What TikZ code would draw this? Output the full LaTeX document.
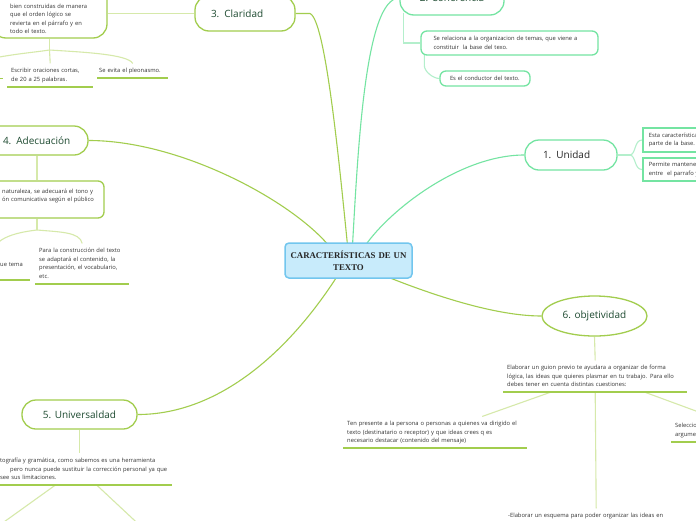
\documentclass[tikz,border=0pt]{standalone}
\usepackage{fontspec}
\setmainfont{Open Sans}
\newfontfamily\serifb{Liberation Serif}
\usetikzlibrary{shapes.geometric,calc,backgrounds}

\definecolor{yg}{HTML}{A2CD4E}
\definecolor{ygpale}{HTML}{D6E9AA}
\definecolor{mint}{HTML}{74E4A2}
\definecolor{mintpale}{HTML}{B4EFCC}
\definecolor{bluefill}{HTML}{C8EBFB}
\definecolor{blueline}{HTML}{72C6EE}
\definecolor{titlegreen}{HTML}{1D4A30}
\definecolor{txt}{HTML}{333333}

\tikzset{
  topicy/.style={draw=yg, line width=1.3pt, fill=white, rounded corners=14pt,
    font=\fontsize{10}{11}\selectfont, text=titlegreen, inner sep=0pt},
  topicm/.style={topicy, draw=mint},
  body/.style={font=\fontsize{5.8}{8.5}\selectfont, text=txt},
  txtnode/.style={body, align=left, inner sep=0pt, anchor=north west,
    execute at begin node=\strut, execute at end node=\strut},
  leaf/.style={body, align=left, inner xsep=4pt, inner ysep=3pt, anchor=north west,
    execute at begin node=\strut, execute at end node=\strut},
  boxy/.style={draw=yg, line width=1.3pt, fill=white, rounded corners=6pt, inner sep=0pt},
  boxm/.style={draw=mint, line width=1.3pt, fill=white, rounded corners=6pt, body, align=left, inner sep=0pt},
  sqm/.style={draw=mint, line width=1.6pt, fill=white, body, align=left, inner xsep=6pt, inner ysep=0pt, anchor=west},
  mainy/.style={draw=yg, line width=1.1pt},
  mainm/.style={draw=mint, line width=1.1pt},
  childy/.style={draw=ygpale, line width=1.1pt},
  childm/.style={draw=mintpale, line width=1.1pt},
  uline/.style={draw=yg, line width=1.8pt},
}

\begin{document}
\begin{tikzpicture}[x=1pt, y=-1pt]
\useasboundingbox (0,0) rectangle (696,520);

% central node
\node[draw=blueline, fill=bluefill, line width=1.5pt, rounded corners=4pt,
  minimum width=127pt, minimum height=35pt, inner sep=0pt, text width=125pt, align=center,
  font=\serifb\bfseries\fontsize{8.8}{11.7}\selectfont, text=black!85] (central) at (348.5,260.5)
  {CARACTERÍSTICAS DE UN\\TEXTO};

% topics
\node[topicy, minimum width=100pt, minimum height=35pt, text width=68pt, align=left] (clar) at (245,13.5) {3. Claridad};
\node[topicm, minimum width=104pt, minimum height=34pt] (coh) at (452,-2) {2. Coherencia};
\node[topicm, minimum width=92pt, minimum height=30pt, text width=56pt, align=left, text=black!85] (uni) at (571,155) {1. Unidad};
\node[topicy, minimum width=102pt, minimum height=29pt, text width=68pt, align=left] (adec) at (37,140.5) {4. Adecuación};
\node[topicy, minimum width=115pt, minimum height=29pt] (univ) at (79.5,414.5) {5. Universaldad};
\node[ellipse, draw=yg, line width=1.3pt, fill=white, minimum width=105pt, minimum height=40pt,
  inner sep=0pt, font=\fontsize{10}{11}\selectfont, text=titlegreen] (obj) at (594.5,316) {6. objetividad};

% Claridad children
\node[boxy, rounded corners=14pt, minimum width=115pt, minimum height=52pt] (clarbox) at (49.5,12) {};
\node[txtnode, text width=90pt] (clartext) at (10,2)
  {bien construidas de manera\\que el orden lógico se\\revierta en el párrafo y en\\todo el texto.};
\node[leaf, text width=78pt] (escribir) at (7,63.45) {Escribir oraciones cortas,\\de 20 a 25 palabras.};
\node[leaf, text width=67pt, inner xsep=2pt] (pleo) at (97,63.45) {Se evita el pleonasmo.};
\node[leaf, text width=55pt] (clarleft) at (-60,63.5) {};

% Coherencia children
\node[boxm, minimum width=177pt, minimum height=24pt, text width=152pt] (cohbox1) at (509.5,43)
  {Se relaciona a la organizacion de temas, que viene a\\constituir~ la base del texo.};
\node[boxm, minimum width=90pt, minimum height=15pt, text width=70pt] (cohbox2) at (485,78.5)
  {Es el conductor del texto.};

% Unidad children
\node[sqm, minimum height=24pt, text width=80pt] (unibox1) at (642,140)
  {Esta característica forma\\parte de la base.};
\node[sqm, minimum height=23pt, text width=80pt] (unibox2) at (642,169.5)
  {Permite mantener la\\entre~ el parrafo y el texto};

% Adecuacion children
\node[boxy, minimum width=134pt, minimum height=37pt] (adecbox) at (37,199.5) {};
\node[txtnode, text width=110pt] (adectext) at (2,187)
  {naturaleza, se adecuará el tono y\\ón comunicativa según el público};
\node[leaf, text width=86pt] (adecleaf1) at (35,243.45)
  {Para la construcción del texto\\se adaptará el contenido, la\\presentación, el vocabulario,\\etc.};
\node[leaf, text width=26pt] (adecleaf2) at (-4,248.45) {\\ue tema\\};

% Universalidad children
\node[leaf, text width=168pt] (univtext) at (-4,453.45)
  {tografía y gramática, como sabemos es una herramienta\\\mbox{\hspace*{10pt}pero nunca puede sustituir la corrección personal ya que}\\see sus limitaciones.};
\coordinate (univc1) at (-10,532);
\coordinate (univc2) at (148,533);

% Objetividad children
\node[leaf, text width=176pt] (objtext) at (503,360.45)
  {Elaborar un guion previo te ayudara a organizar de forma\\lógica, las ideas que quieres plasmar en tu trabajo. Para ello\\debes tener en cuenta distintas cuestiones:};
\node[leaf, text width=176pt] (objleft) at (343,416.45)
  {Ten presente a la persona o personas a quienes va dirigido el\\texto (destinatario o receptor) y que ideas crees q es\\necesario destacar (contenido del mensaje)};
\node[leaf, text width=82pt] (objright) at (671,418.45) {Selecciona los\\argumentos};
\node[leaf, text width=176pt] (objbottom) at (504,508.45)
  {-Elaborar un esquema para poder organizar las ideas en};

% underlines
\foreach \n in {escribir,pleo,clarleft,adecleaf1,adecleaf2,univtext,objtext,objleft,objright}
  \draw[uline] (\n.south west) -- (\n.south east);

\begin{scope}[on background layer]
\fill[white] (0,0) rectangle (696,520);
% main connectors
\draw[mainy] ($(central.north)+(-1,3)$) .. controls (338,150) and (325,20) .. (310,13.5) -- (clar.east);
\draw[mainm] ($(central.north)+(4,3)$) .. controls (358,150) and (365,-2) .. (coh.west);
\draw[mainm] ($(central.north)+(17,3)$) .. controls (390,210) and (460,155) .. (uni.west);
\draw[mainy] ($(central.north)+(-20,3)$) .. controls (290,200) and (180,140.5) .. (adec.east);
\draw[mainy] ($(central.south)+(-11,-3)$) .. controls (290,350) and (220,414.5) .. (univ.east);
\draw[mainy] ($(central.south)+(36,-3)$) .. controls (420,290) and (490,316) .. (obj.west);

% Claridad
\draw[childy] (clar.west) -- (clar.west -| clarbox.east);
\coordinate (clarfork) at (49.5,50);
\draw[childy] (clarbox.south) -- (clarfork);
\draw[childy] (clarfork) -- (escribir.north);
\draw[childy] (clarfork) .. controls (80,52) and (128,54) .. (pleo.north);
\draw[childy] (clarfork) .. controls (30,53) and (0,55) .. (clarleft.north);

% Coherencia
\draw[childm] ($(coh.south west)+(4,-3)$) |- (cohbox1.west);
\draw[childm] ($(cohbox1.south west)+(4,-2)$) -- ++(0,12) .. controls +(0,6) and +(-6,0) .. (cohbox2.west);

% Unidad
\draw[childm] (uni.east) -- ++(12,0) coordinate (unifork);
\draw[childm] (unifork) .. controls (636,155) and (634,140) .. (unibox1.west);
\draw[childm] (unifork) .. controls (636,155) and (634,169.5) .. (unibox2.west);

% Adecuacion
\draw[childy] (adec.south) -- (adecbox.north);
\coordinate (adecfork) at (37,230);
\draw[childy] (adecbox.south) -- (adecfork);
\draw[childy] (adecfork) .. controls (60,232) and (80,232) .. (adecleaf1.north);
\draw[childy] (adecfork) .. controls (20,232) and (0,236) .. ($(adecleaf2.north)+(-20,0)$);

% Universalidad
\draw[childy] (univ.south) -- (univ.south |- univtext.north);
\draw[childy] ($(univtext.south west)+(59,0)$) -- (univc1);
\draw[childy] ($(univtext.south west)+(101,0)$) -- (univc2);

% Objetividad
\draw[childy] (obj.south) -- (objtext.north);
\draw[childy] (objtext.south) -- (objbottom.north);
\draw[childy] ($(objtext.south)+(-45,0)$) -- ($(objleft.north)+(47,0)$);
\draw[childy] ($(objtext.south)+(50,0)$) -- (objright.north);
\end{scope}
\end{tikzpicture}
\end{document}
